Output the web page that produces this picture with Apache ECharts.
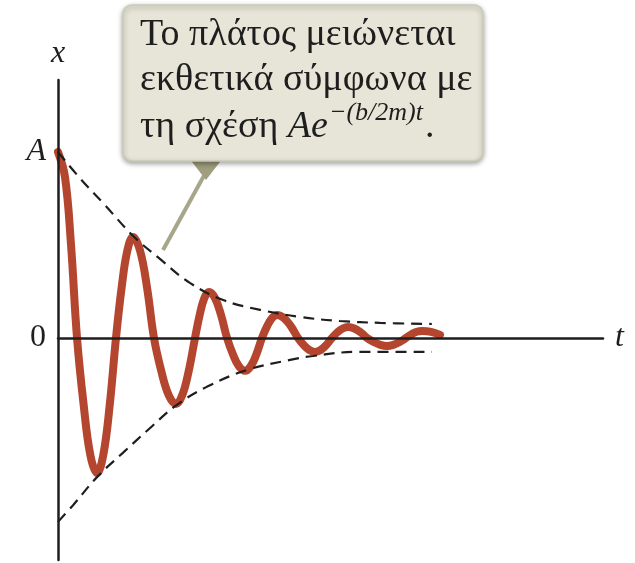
<!DOCTYPE html>
<html>
<head>
<meta charset="utf-8">
<script src="https://cdn.jsdelivr.net/npm/echarts@6/dist/echarts.min.js"></script>
<style>
  html, body { margin: 0; padding: 0; background: #fff; }
  #chart { width: 635px; height: 563px; }
</style>
</head>
<body>
<div id="chart"></div>
<script>
// Damped oscillation: time t (arbitrary units) and displacement x (in units of A)
const curveT = [0, 1.28, 2.39, 3.49, 4.72, 5.93, 7.16, 8.31, 9.48, 10.64, 11.68, 12.72, 13.76, 15.05, 16.33, 17.61,
  18.95, 20.31, 21.65, 22.81, 23.98, 25.14, 26.00, 26.84, 27.71, 28.81, 29.91, 31.01, 32.11, 33.21, 34.31,
  35.35, 36.39, 37.43, 38.35, 39.27, 40.18, 41.47, 42.75, 44.04, 45.08, 46.11, 47.16, 48.20, 49.23, 50.28,
  51.25, 52.24, 53.21, 54.37, 55.54, 56.70, 57.93, 59.14, 60.37, 61.53, 62.70, 63.85, 64.83, 65.82, 66.79,
  68.44, 70.09];
const curveX = [1.0, 0.866, 0.5, 0, -0.363, -0.629, -0.726, -0.629, -0.363, 0, 0.272, 0.470, 0.543, 0.470, 0.272, 0,
  -0.178, -0.307, -0.355, -0.307, -0.178, 0, 0.124, 0.214, 0.247, 0.214, 0.124, 0, -0.089, -0.153, -0.177,
  -0.153, -0.089, 0, 0.062, 0.107, 0.124, 0.107, 0.062, 0, -0.038, -0.065, -0.075, -0.065, -0.038, 0,
  0.030, 0.051, 0.059, 0.051, 0.030, 0, -0.022, -0.037, -0.043, -0.037, -0.022, 0, 0.019, 0.033, 0.038,
  0.033, 0.016];

// Envelope curves  +A e^{-(b/2m)t}  and  -A e^{-(b/2m)t}
const upperT = [0, 4.0, 8.6, 13.8, 18.7, 24.2, 30.3, 37.1, 44.4, 51.7, 59.1, 68.6];
const upperX = [1.0, 0.860, 0.715, 0.548, 0.425, 0.296, 0.204, 0.151, 0.113, 0.091, 0.081, 0.075];
const lowerT = [0, 2.8, 7.2, 11.9, 16.9, 21.8, 27.3, 34.7, 42.6, 46.8, 54.9, 68.6];
const lowerX = [-0.989, -0.898, -0.747, -0.618, -0.484, -0.360, -0.263, -0.172, -0.118, -0.097, -0.075, -0.075];

// Labelled values on the vertical axis
const yTickValues = [0, 1];
const yTickLabels = ['0', 'A'];

const pair = (ts, xs) => ts.map((t, i) => [t, xs[i]]);

const serif = '"Liberation Serif", "DejaVu Serif", serif';
const ink = '#1e1e1e';

const chart = echarts.init(document.getElementById('chart'), null, { renderer: 'canvas' });

chart.setOption({
  animation: false,
  backgroundColor: '#ffffff',
  grid: { left: 58, right: 32, top: 80, bottom: 3, containLabel: false, outerBoundsMode: 'none' },
  xAxis: {
    type: 'value', min: 0, max: 100, z: 5,
    name: 't', nameLocation: 'end', nameGap: 12,
    nameTextStyle: { fontFamily: serif, fontStyle: 'italic', fontSize: 32, color: ink, verticalAlign: 'middle' },
    axisLine: { show: true, onZero: true, lineStyle: { color: ink, width: 2.5 } },
    axisTick: { show: false }, axisLabel: { show: false }, splitLine: { show: false }
  },
  yAxis: {
    type: 'value', min: -1.194, max: 1.387, z: 5,
    name: 'x', nameLocation: 'end', nameGap: 10,
    nameTextStyle: { fontFamily: serif, fontStyle: 'italic', fontSize: 32, color: ink, align: 'center' },
    axisLine: { show: true, onZero: false, lineStyle: { color: ink, width: 2.5 } },
    axisTick: { show: false }, splitLine: { show: false },
    axisLabel: {
      show: true, customValues: yTickValues, margin: 12,
      formatter: v => {
        const lab = yTickLabels[yTickValues.indexOf(v)];
        return lab === 'A' ? '{i|' + lab + '}' : '{n|' + lab + '}';
      },
      rich: {
        i: { fontFamily: serif, fontStyle: 'italic', fontSize: 32, color: ink },
        n: { fontFamily: serif, fontSize: 32, color: ink }
      }
    }
  },
  series: [
    {
      type: 'line', data: pair(curveT, curveX), smooth: 0.4, showSymbol: false, z: 2,
      lineStyle: { color: '#b4462f', width: 8, cap: 'round', join: 'round' }
    },
    {
      type: 'line', data: pair(upperT, upperX), smooth: 0.4, showSymbol: false, z: 4,
      lineStyle: { color: ink, width: 2.2, type: [11, 7] }
    },
    {
      type: 'line', data: pair(lowerT, lowerX), smooth: 0.4, showSymbol: false, z: 4,
      lineStyle: { color: ink, width: 2.2, type: [11, 7] }
    }
  ],
  graphic: [
    {
      type: 'group', z: 10,
      children: [
        {
          type: 'line', shape: { x1: 206, y1: 172, x2: 163, y2: 250 },
          style: { stroke: '#a8a68a', lineWidth: 4 }
        },
        {
          type: 'polygon', shape: { points: [[189, 158], [223, 158], [206, 180]] },
          style: { fill: '#a09e7e' }
        },
        {
          type: 'rect', shape: { x: 123, y: 5, width: 360, height: 156, r: 9 },
          style: {
            fill: '#e6e5d7', stroke: '#cbcab6', lineWidth: 1.5,
            shadowBlur: 5, shadowOffsetY: 2, shadowColor: 'rgba(0,0,0,0.35)'
          }
        },
        {
          type: 'text', left: 140, top: 16,
          style: { text: 'Το πλάτος μειώνεται', font: '38px ' + serif, fill: ink }
        },
        {
          type: 'text', left: 140, top: 61,
          style: { text: 'εκθετικά σύμφωνα με', font: '38px ' + serif, fill: ink }
        },
        {
          type: 'text', left: 140, top: 100,
          style: {
            text: '{n|τη σχέση }{i|Ae}{s|−(b/2m)t}{d|.}',
            rich: {
              n: { fontFamily: serif, fontSize: 38, fill: ink, lineHeight: 46, verticalAlign: 'bottom' },
              i: { fontFamily: serif, fontStyle: 'italic', fontSize: 38, fill: ink, lineHeight: 46, verticalAlign: 'bottom' },
              s: { fontFamily: serif, fontStyle: 'italic', fontSize: 26, fill: ink, lineHeight: 46, verticalAlign: 'top', padding: [0, 0, 0, 1] },
              d: { fontFamily: serif, fontSize: 38, fill: ink, lineHeight: 46, verticalAlign: 'bottom', padding: [0, 0, 0, 2] }
            }
          }
        }
      ]
    }
  ]
});
</script>
</body>
</html>
